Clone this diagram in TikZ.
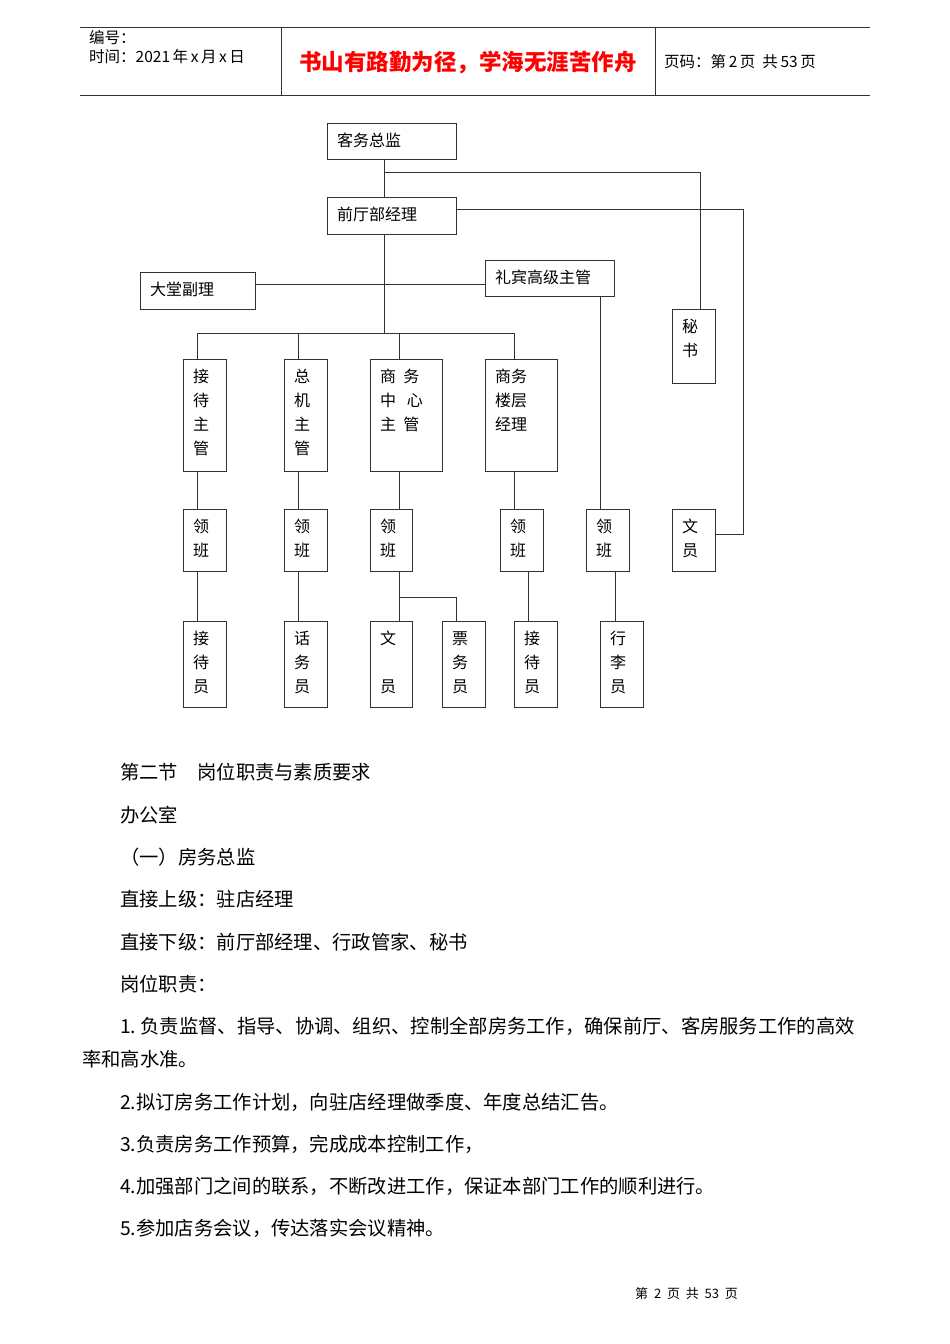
\documentclass[tikz,border=0pt]{standalone}
\usepackage{fontspec}
\setmainfont{Noto Sans CJK SC}
\begin{document}
\begin{tikzpicture}[x=1pt,y=-1pt,
 bx/.style={draw=black!80,line width=0.9pt},
 ln/.style={draw=black!80,line width=0.9pt},
 lab/.style={anchor=north west,inner sep=0pt,font=\fontsize{16}{24}\selectfont,align=left},
 bt/.style={anchor=north west,inner sep=0pt,font=\fontsize{19.3}{21}\selectfont}]
\useasboundingbox (0,0) rectangle (950,1344);
% header
\draw[black!80,line width=0.9pt] (80,27) -- (870,27) (80,95) -- (870,95) (281,27) -- (281,95) (655,27) -- (655,95);
\node[anchor=north west,inner sep=0pt,font=\fontsize{15.5}{19}\selectfont,align=left] (hd1) at (89,30) {编号：\\时间：2021\,年\,x\,月\,x\,日};
\node[text=red,font=\bfseries\fontsize{22.5}{24}\selectfont,inner sep=0pt] (hd2) at (468,63) {书山有路勤为径，学海无涯苦作舟};
\node[anchor=west,inner sep=0pt,font=\fontsize{15.5}{18}\selectfont] (hd3) at (664,62) {页码：第\,2\,页\ \ 共\,53\,页};
% boxes
\newcommand{\bxx}[6]{\draw[bx] (#2,#3) rectangle (#4,#5); \node[lab] (#1) at (#2+10,#3+10) {#6};}
\bxx{kw}{327}{123}{456}{159}{客务总监}
\bxx{qt}{327}{197}{456}{234}{前厅部经理}
\bxx{dt}{140}{272}{255}{309}{大堂副理}
\bxx{lb}{485}{260}{614}{296}{礼宾高级主管}
\bxx{ms}{672}{309}{715}{383}{秘\\书}
\bxx{jz}{183}{359}{226}{471}{接\\待\\主\\管}
\bxx{zj}{284}{359}{327}{471}{总\\机\\主\\管}
\bxx{sw}{370}{359}{442}{471}{商\ \ 务\\中\ \ \ 心\\主\ \ 管}
\bxx{lc}{485}{359}{557}{471}{商务\\楼层\\经理}
\bxx{l1}{183}{509}{226}{571}{领\\班}
\bxx{l2}{284}{509}{327}{571}{领\\班}
\bxx{l3}{370}{509}{412}{571}{领\\班}
\bxx{l4}{500}{509}{543}{571}{领\\班}
\bxx{l5}{586}{509}{629}{571}{领\\班}
\bxx{wy}{672}{509}{715}{571}{文\\员}
\bxx{a1}{183}{621}{226}{707}{接\\待\\员}
\bxx{a2}{284}{621}{327}{707}{话\\务\\员}
\bxx{a3}{370}{621}{412}{707}{文\\\\员}
\bxx{a4}{442}{621}{485}{707}{票\\务\\员}
\bxx{a5}{514}{621}{557}{707}{接\\待\\员}
\bxx{a6}{600}{621}{643}{707}{行\\李\\员}
% connectors
\draw[ln] (384,159) -- (384,197) (384,234) -- (384,333);
\draw[ln] (384,172) -- (700,172) -- (700,309);
\draw[ln] (456,209) -- (743,209) -- (743,534) -- (715,534);
\draw[ln] (255,284) -- (485,284);
\draw[ln] (600,296) -- (600,509);
\draw[ln] (197,359) -- (197,333) -- (514,333) -- (514,359) (298,333) -- (298,359) (399,333) -- (399,359);
\draw[ln] (197,471) -- (197,509) (298,471) -- (298,509) (399,471) -- (399,509) (514,471) -- (514,509);
\draw[ln] (197,571) -- (197,621) (298,571) -- (298,621) (399,571) -- (399,621) (399,597) -- (456,597) -- (456,621) (528,571) -- (528,621) (615,571) -- (615,621);
% body text
\node[bt] (t1) at (120,763) {第二节\quad 岗位职责与素质要求};
\node[bt] (t2) at (120,806) {办公室};
\node[bt] (t3) at (120,848) {（一）房务总监};
\node[bt] (t4) at (120,890) {直接上级：驻店经理};
\node[bt] (t5) at (120,933) {直接下级：前厅部经理、行政管家、秘书};
\node[bt] (t6) at (120,975) {岗位职责：};
\node[bt] (t7) at (120,1017) {1.\ 负责监督、指导、协调、组织、控制全部房务工作，确保前厅、客房服务工作的高效};
\node[bt] (t8) at (82,1050) {率和高水准。};
\node[bt] (t9) at (120,1093) {2.拟订房务工作计划，向驻店经理做季度、年度总结汇告。};
\node[bt] (t10) at (120,1135) {3.负责房务工作预算，完成成本控制工作，};
\node[bt] (t11) at (120,1177) {4.加强部门之间的联系，不断改进工作，保证本部门工作的顺利进行。};
\node[bt] (t12) at (120,1219) {5.参加店务会议，传达落实会议精神。};
\node[anchor=west,inner sep=0pt,font=\fontsize{13}{14}\selectfont] (ft) at (635,1294) {第\ \ 2\ \ 页\ \ 共\ \ 53\ \ 页};
\end{tikzpicture}
\end{document}
